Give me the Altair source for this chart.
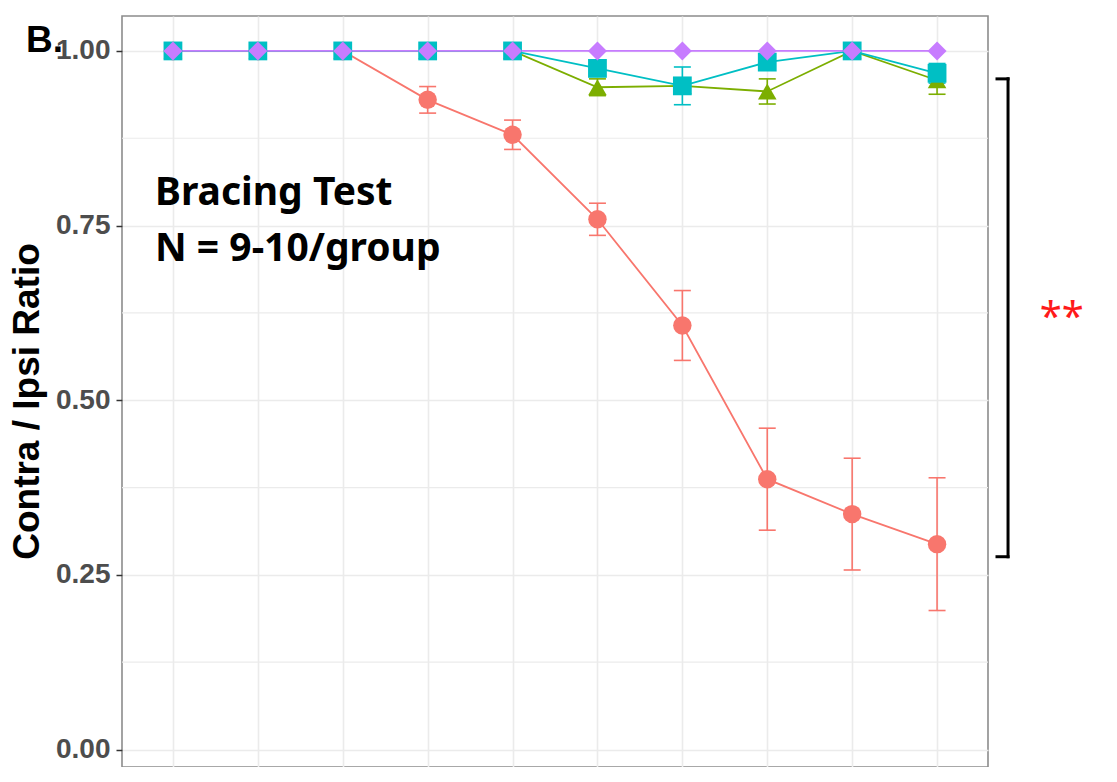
import altair as alt
import pandas as pd

# ---- data ----
time_points = [1, 2, 3, 4, 5, 6, 7, 8, 9, 10]
groups = ["Group 1", "Group 2", "Group 3", "Group 4"]
colors = ["#F8766D", "#7CAE00", "#00BFC4", "#C77CFF"]
shapes = ["circle", "triangle-up", "square", "diamond"]

g1_mean = [1.0, 1.0, 1.0, 0.930, 0.880, 0.759, 0.607, 0.387, 0.337, 0.294]
g1_err = [0.0, 0.0, 0.0, 0.019, 0.021, 0.023, 0.050, 0.073, 0.080, 0.095]
g2_mean = [1.0, 1.0, 1.0, 1.0, 1.0, 0.948, 0.950, 0.942, 1.0, 0.958]
g2_err = [0.0, 0.0, 0.0, 0.0, 0.0, 0.012, 0.010, 0.018, 0.0, 0.020]
g3_mean = [1.0, 1.0, 1.0, 1.0, 1.0, 0.975, 0.950, 0.984, 1.0, 0.968]
g3_err = [0.0, 0.0, 0.0, 0.0, 0.0, 0.010, 0.027, 0.008, 0.0, 0.014]
g4_mean = [1.0, 1.0, 1.0, 1.0, 1.0, 1.0, 1.0, 1.0, 1.0, 1.0]
g4_err = [0.0, 0.0, 0.0, 0.0, 0.0, 0.0, 0.0, 0.0, 0.0, 0.0]

y_major = [0.0, 0.25, 0.5, 0.75, 1.0]
y_minor = [0.125, 0.375, 0.625, 0.875]

means = [g1_mean, g2_mean, g3_mean, g4_mean]
errs = [g1_err, g2_err, g3_err, g4_err]
rows = []
for g, m, e in zip(groups, means, errs):
    for t, mv, ev in zip(time_points, m, e):
        rows.append({"time": t, "group": g, "mean": mv, "err": ev})
df = pd.DataFrame(rows)

# ---- scales / axes ----
xscale = alt.Scale(domain=[0.4, 10.6], nice=False, zero=False)
yscale = alt.Scale(domain=[-0.025, 1.05], nice=False, zero=False)
xaxis = alt.Axis(values=time_points, grid=True, labels=False, ticks=False,
                 domain=False, title=None, gridColor="#EBEBEB", gridWidth=1.6)
yaxis = alt.Axis(values=y_major, format=".2f", grid=True, gridColor="#EBEBEB",
                 gridWidth=1.6, domain=False, tickColor="#333333", tickSize=6,
                 tickWidth=1.5, labelPadding=6, labelFont="Liberation Sans",
                 labelFontWeight="bold", labelFontSize=28, labelColor="#4D4D4D",
                 title="Contra / Ipsi Ratio", titleFont="Liberation Sans",
                 titleFontWeight="bold", titleFontSize=37, titleColor="black",
                 titleAngle=270, titleAlign="center", titleBaseline="middle",
                 titleX=-95, titleY=385)

color = alt.Color("group:N", scale=alt.Scale(domain=groups, range=colors), legend=None)
shape = alt.Shape("group:N", scale=alt.Scale(domain=groups, range=shapes), legend=None)

X = lambda f: alt.X(f, scale=xscale, axis=xaxis)
Y = lambda f: alt.Y(f, scale=yscale, axis=yaxis)

minor = alt.Chart(pd.DataFrame({"v": y_minor})).mark_rule(
    color="#EBEBEB", strokeWidth=1.2).encode(y=Y("v:Q"))

base = alt.Chart(df)

lines = base.mark_line(strokeWidth=1.8).encode(
    x=X("time:Q"), y=Y("mean:Q"), color=color, detail="group:N")

eb = base.transform_filter("datum.err > 0").transform_calculate(
    lo="datum.mean - datum.err", hi="datum.mean + datum.err",
    xl="datum.time - 0.1", xr="datum.time + 0.1")

eb_v = eb.mark_rule(strokeWidth=1.6).encode(
    x=X("time:Q"), y=Y("lo:Q"), y2="hi:Q", color=color)
eb_top = eb.mark_rule(strokeWidth=1.6).encode(
    x=X("xl:Q"), x2="xr:Q", y=Y("hi:Q"), color=color)
eb_bot = eb.mark_rule(strokeWidth=1.6).encode(
    x=X("xl:Q"), x2="xr:Q", y=Y("lo:Q"), color=color)

points = base.mark_point(filled=True, opacity=1).encode(
    x=X("time:Q"), y=Y("mean:Q"), color=color, shape=shape,
    size=alt.Size("group:N", scale=alt.Scale(domain=groups, range=[340, 360, 280, 220]), legend=None))

one = alt.Data(values=[{"k": 0}])

def note(text, xv, yv, **kw):
    return alt.Chart(one).mark_text(text=text, **kw).encode(
        x=alt.X(datum=xv, type="quantitative", scale=xscale, axis=xaxis),
        y=alt.Y(datum=yv, type="quantitative", scale=yscale, axis=yaxis))

t1 = note("Bracing Test", 0.789, 0.780, font="Noto Sans", fontWeight="bold",
          fontSize=39, align="left", baseline="alphabetic", color="black")
t2 = note("N = 9-10/group", 0.789, 0.700, font="Noto Sans", fontWeight="bold",
          fontSize=39, align="left", baseline="alphabetic", color="black")
tB = note("B.", -0.731, 0.9986, font="Liberation Sans", fontWeight="bold",
          fontSize=37, align="left", baseline="alphabetic", color="black")
stars = note("**", 11.47, 0.600, font="Noto Sans", fontSize=40,
             align="center", baseline="alphabetic", color="#FF1A1A")

br_x, br_left, br_top, br_bot = 10.836, 10.706, 0.960, 0.276

def rule(**enc):
    return alt.Chart(one).mark_rule(color="black", strokeWidth=3, strokeCap="square").encode(**enc)

b_v = rule(x=alt.X(datum=br_x, type="quantitative", scale=xscale, axis=xaxis),
           y=alt.Y(datum=br_top, type="quantitative", scale=yscale, axis=yaxis),
           y2=alt.Y2(datum=br_bot))
b_t = rule(x=alt.X(datum=br_left, type="quantitative", scale=xscale, axis=xaxis),
           x2=alt.X2(datum=br_x),
           y=alt.Y(datum=br_top, type="quantitative", scale=yscale, axis=yaxis))
b_b = rule(x=alt.X(datum=br_left, type="quantitative", scale=xscale, axis=xaxis),
           x2=alt.X2(datum=br_x),
           y=alt.Y(datum=br_bot, type="quantitative", scale=yscale, axis=yaxis))

chart = alt.layer(
    minor, lines, eb_v, eb_top, eb_bot, points, t1, t2, tB, stars, b_v, b_t, b_b
).properties(
    width=866, height=751,
    autosize=alt.AutoSizeParams(type="none"),
    padding={"left": 114, "top": 8, "right": 100, "bottom": 0},
    background="white",
).configure_view(stroke="#8C8C8C", strokeWidth=1.6)

chart.save("out.html", embed_options={"renderer": "svg", "actions": False})
